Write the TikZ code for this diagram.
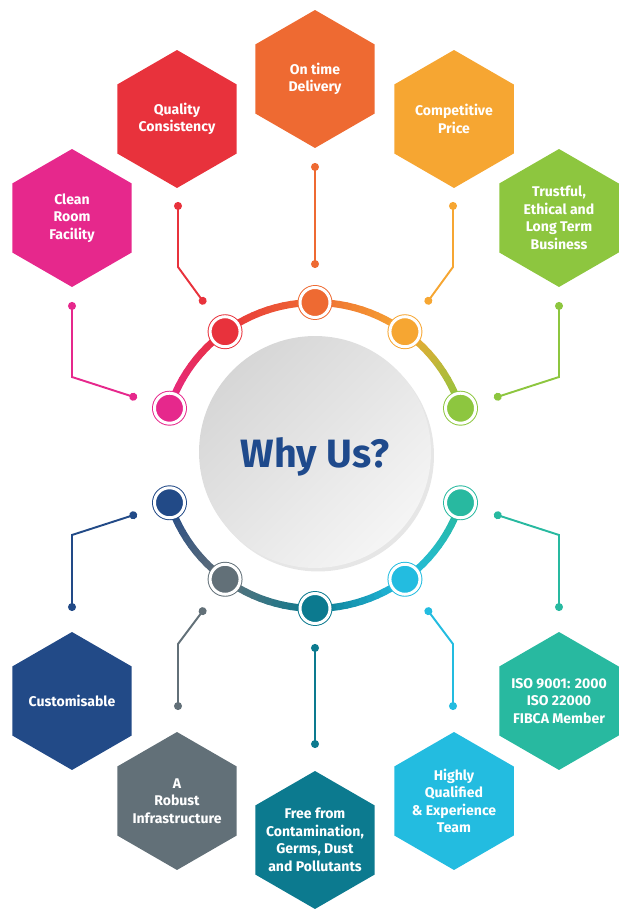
\documentclass[tikz,border=0pt]{standalone}
\usepackage{fontspec}
\setmainfont{Fira Sans}
\usetikzlibrary{calc,positioning,arrows.meta,shapes.geometric,shadows}
\definecolor{pinkcolor}{RGB}{230,40,140}
\definecolor{redcolor}{RGB}{232,50,60}
\definecolor{orangecolor}{RGB}{238,106,50}
\definecolor{ambercolor}{RGB}{246,166,50}
\definecolor{greencolor}{RGB}{141,198,63}
\definecolor{navycolor}{RGB}{34,74,135}
\definecolor{slatecolor}{RGB}{98,112,120}
\definecolor{tealcolor}{RGB}{12,122,143}
\definecolor{cyancolor}{RGB}{35,188,224}
\definecolor{jadecolor}{RGB}{40,185,160}
\definecolor{titleblue}{RGB}{31,74,140}
\tikzset{
  hexbox/.style={regular polygon, regular polygon sides=6, shape border rotate=30,
    minimum size=2.76cm, inner sep=-14pt, fill=#1, text=white, align=center,
    font=\fontsize{8}{10}\selectfont\bfseries},
  ringdot/.style={circle, inner sep=0pt, minimum size=0.6cm, fill=#1, draw=#1,
    line width=0.55pt, double=white, double distance=1.7pt},
  link/.style={draw=#1, line width=1.1pt, {Circle[length=4.5pt]}-{Circle[length=4.5pt]}},
}

\begin{document}
\begin{tikzpicture}[x=0.02cm, y=0.02cm]
  \useasboundingbox (0,0) rectangle (638,923);
  \coordinate (ctr) at (315,467.5);

  % Centre disc
  \node[circle, minimum size=4.64cm, inner sep=0pt, top color=gray!32, bottom color=gray!8,
    shading angle=45, drop shadow={shadow xshift=0.06cm, shadow yshift=-0.07cm, opacity=0.2}]
    (hub) at (315,471) {};
  \node[font=\fontsize{22.5}{22.5}\selectfont\bfseries, text=titleblue, anchor=base]
    (why) at (315,455) {Why Us?};

  % Ring (colour blends between the dots)
  \foreach \a/\s/\ca/\cb in {162/-1/pinkcolor/redcolor, 126/-1/redcolor/orangecolor,
      90/-1/orangecolor/ambercolor, 54/-1/ambercolor/greencolor,
      -162/1/navycolor/slatecolor, -126/1/slatecolor/tealcolor,
      -90/1/tealcolor/cyancolor, -54/1/cyancolor/jadecolor} {
    \foreach \i in {0,...,11} {
      \pgfmathsetmacro{\tA}{\a+\s*3*\i}
      \pgfmathsetmacro{\tB}{\tA+\s*3}
      \pgfmathtruncatemacro{\p}{100-(\i+0.5)*100/12}
      \draw[line width=4pt, line cap=round, \ca!\p!\cb]
        ($(ctr)+(\tA:153)$) -- ($(ctr)+(\tB:153)$);
    }
  }

  % Ring dots
  \foreach \n/\ang/\c in {d1/162/pinkcolor, d2/126/redcolor, d3/90/orangecolor,
      d4/54/ambercolor, d5/18/greencolor, d6/-162/navycolor, d7/-126/slatecolor,
      d8/-90/tealcolor, d9/-54/cyancolor, d10/-18/jadecolor}
    \node[ringdot=\c] (\n) at ($(ctr)+(\ang:153)$) {};

  % Upper hexagons
  \node[hexbox=pinkcolor] (clean) at (72,705) {Clean\\Room\\Facility};
  \node[hexbox=redcolor] (quality) at (177,804) {Quality\\Consistency};
  \node[hexbox=orangecolor] (ontime) at (315,844) {On time\\Delivery};
  \node[hexbox=ambercolor] (price) at (454,804) {Competitive\\Price};
  \node[hexbox=greencolor] (trust) at (559,705) {Trustful,\\Ethical and\\Long Term\\Business};

  % Lower hexagons
  \node[hexbox=navycolor] (custom) at (72,222) {Customisable};
  \node[hexbox=slatecolor] (robust) at (177,122) {A\\Robust\\Infrastructure};
  \node[hexbox=tealcolor] (free) at (315,83) {Free from\\Contamination,\\Germs, Dust\\and Pollutants};
  \node[hexbox=cyancolor] (team) at (454,122) {Highly\\Qualified\\\& Experience\\Team};
  \node[hexbox=jadecolor] (iso) at (559,222) {ISO 9001: 2000\\ISO 22000\\FIBCA Member};

  % Connector points
  \foreach \n/\x/\y in {clean-a/72/621, clean-b/72/546, clean-c/137/525,
      quality-a/178/721, quality-b/178/656, quality-c/205/619,
      ontime-a/315/760, ontime-c/315/655,
      price-a/453/721, price-b/453/656, price-c/426/619,
      trust-a/559/621, trust-b/559/546, trust-c/494/525,
      custom-a/72/312, custom-b/72/388, custom-c/137/409,
      robust-a/178/213, robust-b/178/279, robust-c/205/315,
      free-a/315/175, free-c/315/279,
      team-a/453/213, team-b/453/279, team-c/426/315,
      iso-a/559/312, iso-b/559/388, iso-c/494/409}
    \coordinate (\n) at (\x,\y);

  % Connectors
  \draw[link=pinkcolor] (clean-a) -- (clean-b) -- (clean-c);
  \draw[link=redcolor] (quality-a) -- (quality-b) -- (quality-c);
  \draw[link=orangecolor] (ontime-a) -- (ontime-c);
  \draw[link=ambercolor] (price-a) -- (price-b) -- (price-c);
  \draw[link=greencolor] (trust-a) -- (trust-b) -- (trust-c);
  \draw[link=navycolor] (custom-a) -- (custom-b) -- (custom-c);
  \draw[link=slatecolor] (robust-a) -- (robust-b) -- (robust-c);
  \draw[link=tealcolor] (free-a) -- (free-c);
  \draw[link=cyancolor] (team-a) -- (team-b) -- (team-c);
  \draw[link=jadecolor] (iso-a) -- (iso-b) -- (iso-c);
\end{tikzpicture}
\end{document}
